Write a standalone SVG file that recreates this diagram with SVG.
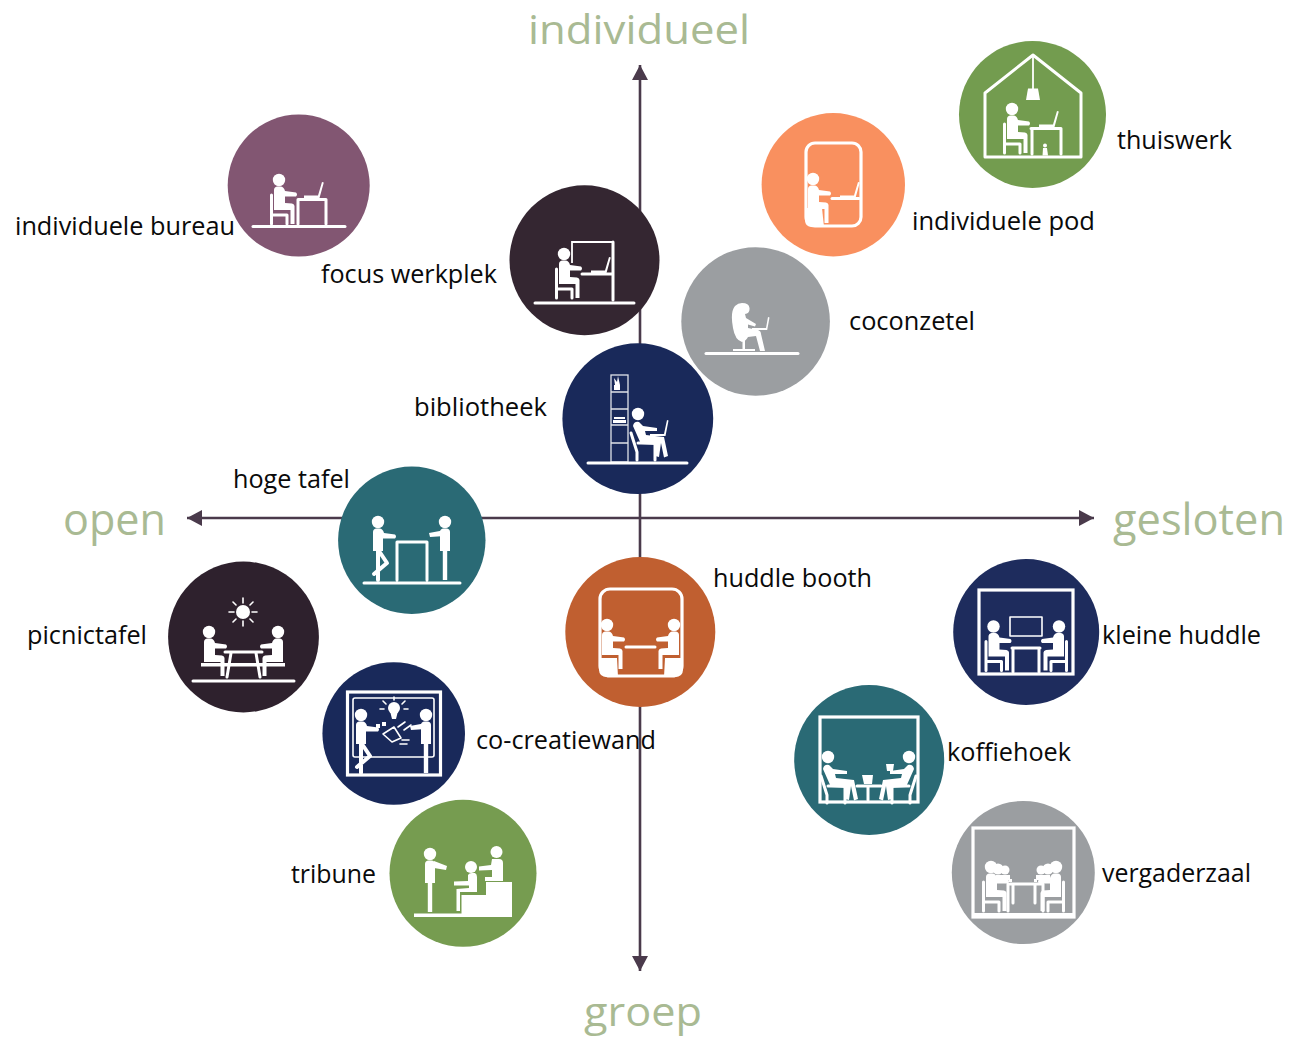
<svg xmlns="http://www.w3.org/2000/svg" width="1291" height="1038" viewBox="0 0 1291 1038">
<style>
text{font-family:"Open Sans","Noto Sans","Liberation Sans",sans-serif;}
.l{font-size:25.5px;fill:#0a0a0a;}
.a{font-size:40.5px;fill:#a9ba93;}
.b{font-size:43px;fill:#a9ba93;}
.ax{stroke:#4a3a4b;stroke-width:2.6;fill:none;}
.w{fill:#fff;}
.s{fill:none;stroke:#fff;stroke-width:3;stroke-linecap:round;stroke-linejoin:round;}
.t{fill:none;stroke:#fff;stroke-width:1.6;stroke-linejoin:round;stroke-linecap:round;}
.f{fill:none;stroke:#fff;stroke-width:3.2;}
</style>
<defs>
<marker id="ah" markerUnits="userSpaceOnUse" markerWidth="16" markerHeight="16" refX="15" refY="8" orient="auto-start-reverse"><path d="M0,0L15,8L0,16Z" fill="#4a3a4b"/></marker>
<g id="body"><circle cx="0" cy="0" r="6.200" class="w"/><path class="w" d="M-5,10Q-5,7 -2,6.500L2,6.500Q5,7 6,11L17,12.500Q19,14.500 17,16.500L6,16.500V23L13,23.500Q15.500,24 15.500,26V44H11.500V30L-5,30Z"/></g>
<g id="sit"><use href="#body"/><path class="s" d="M-7.500,15V44M-7.500,35H8M8,35V44"/></g>
<g id="laptop"><path class="w" d="M0,0.500H14L18,-13L19.800,-12.500L15.500,3H0Z"/></g>
<g id="stand"><circle cx="0" cy="0" r="6.200" class="w"/><path class="w" d="M-5,10Q-5,7 -2,6.500L2,6.500Q5,7 5,10V29H2.200V58H-2.200V29H-5Z"/></g>
<g id="lean"><circle cx="0" cy="0" r="6.200" class="w"/><path class="w" d="M-5,10Q-5,7 -2,6.500L2,6.500Q5,7 6,11L17,12.500Q19,14.500 17,16.500L5,16.500V29H-5Z"/><path d="M0,29V58M1,29L9,41L-4,52" fill="none" stroke="#fff" stroke-width="4" stroke-linejoin="round" stroke-linecap="round"/></g>
<g id="lounge"><circle cx="0" cy="0" r="6.200" class="w"/><path class="w" d="M-5,12Q-4,7 1,8L5,12L19,14V17L7,17L8,21L26,23L30,42L26,43.500L23,29L21,43L17,42L18,31L3,30Z"/><path class="s" d="M-7,19L-1,38M0,29H17M-1,38V46M17,29V46"/></g>
<g id="armL"><path class="w" d="M0,8L-16,11L-15,15L0,14Z"/></g>
</defs>

<g id="connectors">
<path class="ax" d="M640,65V971" marker-start="url(#ah)" marker-end="url(#ah)"/>
<path class="ax" d="M187,518H1094" marker-start="url(#ah)" marker-end="url(#ah)"/>
</g>

<g id="axis-labels">
<text class="a" x="528" y="43.500" textLength="222" lengthAdjust="spacingAndGlyphs">individueel</text>
<text class="b" x="63" y="535" textLength="103" lengthAdjust="spacingAndGlyphs">open</text>
<text class="b" x="1113" y="535" textLength="172" lengthAdjust="spacingAndGlyphs">gesloten</text>
<text class="a" x="584" y="1026" textLength="118" lengthAdjust="spacingAndGlyphs">groep</text>
</g>

<g id="individuele-bureau">
<circle cx="298.700" cy="185.500" r="71" fill="#825672"/>
<use href="#sit" x="279" y="180"/>
<path class="s" d="M253,226.500H345"/>
<path class="s" d="M298,199.500H326V224M298,199.500V224"/>
<use href="#laptop" x="304" y="195"/>
<text class="l" x="15" y="235" textLength="220" lengthAdjust="spacingAndGlyphs">individuele bureau</text>
</g>

<g id="focus-werkplek">
<circle cx="584.500" cy="260.300" r="75" fill="#342631"/>
<use href="#sit" x="564" y="254"/>
<path class="s" d="M535,303H634"/>
<path d="M572,263V242H613" fill="none" stroke="#fff" stroke-width="1.800"/>
<path class="s" d="M613,242V300M582,274H612"/>
<use href="#laptop" x="591" y="270"/>
<text class="l" x="321" y="283" textLength="176" lengthAdjust="spacingAndGlyphs">focus werkplek</text>
</g>

<g id="individuele-pod">
<circle cx="833.300" cy="184.700" r="71.700" fill="#f9905f"/>
<rect class="f" x="806" y="143" width="55" height="83" rx="9"/>
<path class="w" d="M805,208H822L824,227H812Q805,227 805,220Z"/>
<use href="#body" x="813" y="179"/>
<path class="s" d="M832,198.500H859"/>
<use href="#laptop" x="840" y="195"/>
<text class="l" x="912" y="230" textLength="183" lengthAdjust="spacingAndGlyphs">individuele pod</text>
</g>

<g id="thuiswerk">
<circle cx="1032.500" cy="114.500" r="73.500" fill="#739c4f"/>
<path class="s" d="M985,157V93L1033,55L1081,93V157Z"/>
<path d="M1033,55V90" stroke="#fff" stroke-width="1.800"/>
<path class="w" d="M1028,88.500H1038L1040,100H1026Z"/>
<use href="#sit" x="1012" y="109"/>
<path class="s" d="M1031,128.500H1061V154M1032,128.500V154"/>
<use href="#laptop" x="1039" y="124"/>
<circle cx="1045" cy="145.500" r="2" class="w"/>
<path class="w" d="M1043,148H1047L1048,155.500H1042.500Z"/>
<text class="l" x="1117" y="149" textLength="115" lengthAdjust="spacingAndGlyphs">thuiswerk</text>
</g>

<g id="coconzetel">
<circle cx="755.600" cy="321.500" r="74.300" fill="#9b9ea1"/>
<path class="w" d="M742,303Q749,303 749.500,308Q750,313 745,314L746,318L756,324L755,326.500L748,324.500L748,328L758,330Q761,331 761,334L765,351H760L756,336L748,337Q746,341 742,342Q735,340 733,328Q730,312 735,306Q738,303 742,303Z"/>
<path class="w" d="M752,328H766L768,317L769.500,317.500L767.200,330H752ZM742.500,340H745V349H755V351H733V349H742.500Z"/>
<path class="s" d="M706,353.500H798"/>
<text class="l" x="849" y="330" textLength="126" lengthAdjust="spacingAndGlyphs">coconzetel</text>
</g>

<g id="bibliotheek">
<circle cx="637.800" cy="418.700" r="75.400" fill="#19295a"/>
<rect x="611" y="375" width="17" height="87" fill="none" stroke="#dfe2e8" stroke-width="1.300"/>
<path d="M611,392H628M611,409H628M611,425H628M611,443H628" stroke="#dfe2e8" stroke-width="1.300"/>
<path class="w" d="M613,420H626V423H613ZM614,417H625V419H614ZM614,385H620V390H614ZM615,385L614,378L617,382L618,376L620,385Z"/>
<use href="#lounge" x="638" y="414"/>
<path class="w" d="M650,434H664L667,420L668.500,420.500L665.500,436H650Z"/>
<path class="s" d="M588,463H687"/>
<text class="l" x="414" y="416" textLength="133" lengthAdjust="spacingAndGlyphs">bibliotheek</text>
</g>

<g id="hoge-tafel">
<circle cx="411.800" cy="540.300" r="73.700" fill="#2a6a75"/>
<use href="#lean" x="378" y="522"/>
<use href="#stand" x="445" y="522"/>
<use href="#armL" x="445" y="522"/>
<path class="s" d="M364,583H460M397,580V542H427V580"/>
<text class="l" x="233" y="488" textLength="117" lengthAdjust="spacingAndGlyphs">hoge tafel</text>
</g>

<g id="huddle-booth">
<circle cx="640.300" cy="632" r="75" fill="#c05f30"/>
<rect class="f" x="600" y="589" width="82" height="87" rx="10"/>
<path class="w" d="M599,658H617L618,677H607Q599,677 599,669ZM683,658H665L664,677H675Q683,677 683,669Z"/>
<use href="#body" x="607" y="625"/>
<use href="#body" transform="translate(674,625) scale(-1,1)"/>
<path class="s" d="M626,647H655"/>
<text class="l" x="713" y="587" textLength="159" lengthAdjust="spacingAndGlyphs">huddle booth</text>
</g>

<g id="picnictafel">
<circle cx="243.500" cy="637" r="75.400" fill="#2e212d"/>
<circle cx="243" cy="612" r="7" class="w"/>
<path class="t" d="M243,598V603M243,621V626M229,612H234M252,612H257M233,602L236,605M253,602L250,605M233,622L236,619M253,622L250,619"/>
<use href="#body" x="209" y="632"/>
<use href="#body" transform="translate(278,632) scale(-1,1)"/>
<path class="w" d="M201,663H285V666.500H201Z"/>
<path class="s" d="M225,652H262M231,653L227,677M256,653L260,677"/>
<path class="s" d="M193,681H294"/>
<text class="l" x="27" y="644" textLength="120" lengthAdjust="spacingAndGlyphs">picnictafel</text>
</g>

<g id="co-creatiewand">
<circle cx="393.700" cy="733.500" r="71.300" fill="#19295a"/>
<rect class="f" x="347.500" y="692" width="93" height="83"/>
<rect class="t" x="353" y="698" width="81" height="59" rx="2"/>
<circle cx="394" cy="708" r="6" class="w"/>
<path class="w" d="M390,711H398L396,719H392Z"/>
<path class="t" d="M394,697V700M383,701L386,704M405,701L402,704M380,709H384M404,709H408"/>
<path class="t" d="M383,734L394,727L401,738L392,742ZM398,727L405,722M404,730L411,725M402,740H409M400,744H407"/>
<path class="w" d="M376,724H380V728H376ZM382,722H386V726H382Z"/>
<use href="#lean" x="361" y="715"/>
<use href="#stand" x="426" y="715"/>
<use href="#armL" x="426" y="715"/>
<text class="l" x="476" y="749" textLength="180" lengthAdjust="spacingAndGlyphs">co-creatiewand</text>
</g>

<g id="tribune">
<circle cx="463" cy="873.300" r="73.500" fill="#769c50"/>
<path class="w" d="M414,913.500H461.500V895H486V882H512V917H414Z"/>
<use href="#stand" x="430" y="854"/>
<path class="w" d="M434,861L447,866L446,870L434,868Z"/>
<circle cx="471" cy="867" r="6" class="w"/>
<path class="w" d="M468,875Q469,873 472,873H475Q477,874 477,877V892H460V911H456.500V889L469,888V885.500H454V881.500L468,881Z"/>
<circle cx="496.500" cy="852" r="6" class="w"/>
<path class="w" d="M492,859H499Q503,859 503,863V881H485V877H492V870L479,870.500V866.500L491,865Z"/>
<text class="l" x="291" y="883" textLength="85" lengthAdjust="spacingAndGlyphs">tribune</text>
</g>

<g id="kleine-huddle">
<circle cx="1026.200" cy="632" r="73" fill="#1e2c5d"/>
<rect class="f" x="979" y="590" width="94" height="84"/>
<rect class="t" x="1010" y="617" width="32" height="19"/>
<use href="#sit" x="993.500" y="626.500"/>
<use href="#sit" transform="translate(1059,626.500) scale(-1,1)"/>
<path class="s" d="M1012,648H1040M1013,648V672M1039,648V672"/>
<text class="l" x="1102" y="644" textLength="159" lengthAdjust="spacingAndGlyphs">kleine huddle</text>
</g>

<g id="koffiehoek">
<circle cx="869.200" cy="760" r="75" fill="#2a6a75"/>
<rect class="f" x="820" y="717" width="98" height="85"/>
<use href="#lounge" x="828" y="757"/>
<use href="#lounge" transform="translate(909,757) scale(-1,1)"/>
<path class="w" d="M886,764H894L893,771H887Z"/>
<path class="s" d="M857,786H881M868,786V800"/>
<path class="w" d="M862,775H873L872,784H864Z"/>
<text class="l" x="947" y="761" textLength="124" lengthAdjust="spacingAndGlyphs">koffiehoek</text>
</g>

<g id="vergaderzaal">
<circle cx="1023.300" cy="872.500" r="71.500" fill="#9b9ea1"/>
<rect class="f" x="973" y="828" width="101" height="89"/>
<path class="w" d="M973,913H1074V917H973Z"/>
<circle cx="1005" cy="870" r="4.500" class="w"/><circle cx="998" cy="869" r="5.500" class="w"/>
<circle cx="1041" cy="870" r="4.500" class="w"/><circle cx="1048" cy="869" r="5.500" class="w"/>
<path class="w" d="M996,875H1010V880H996ZM1036,875H1050V880H1036Z"/>
<use href="#sit" x="991" y="867"/>
<use href="#sit" transform="translate(1056,867) scale(-1,1)"/>
<path class="s" d="M1010,884H1041M1013,884V903M1035,884V903M1008,884V911M1043,884V911"/>
<path class="w" d="M1004,879H1007V882H1004ZM1009,879H1012V882H1009ZM1034,879H1037V882H1034ZM1039,879H1042V882H1039Z"/>
<text class="l" x="1102" y="882" textLength="149" lengthAdjust="spacingAndGlyphs">vergaderzaal</text>
</g>
</svg>
